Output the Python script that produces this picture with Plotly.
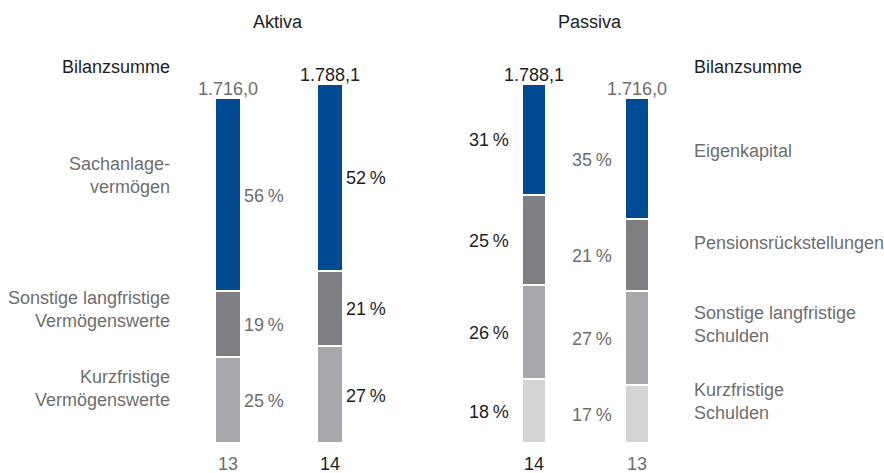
import plotly.graph_objects as go

# Balance sheet structure (EUR m), shares in percent of total
aktiva_years = ["13", "14"]
aktiva_total = [1716.0, 1788.1]
aktiva_sach = [56, 52]
aktiva_sonst = [19, 21]
aktiva_kurz = [25, 27]

passiva_years = ["14", "13"]
passiva_total = [1788.1, 1716.0]
passiva_ek = [31, 35]
passiva_pens = [25, 21]
passiva_sonst = [26, 27]
passiva_kurz = [18, 17]

total_labels = {1716.0: "1.716,0", 1788.1: "1.788,1"}

# Styles
W, H = 884, 473
FONT = "Liberation Sans"
FS = 18
BLUE = "#004a93"
DGRAY = "#7e7f83"
MGRAY = "#a7a8ac"
LGRAY = "#d3d4d6"
TXT_DARK = "#1e1e1e"
TXT_GRAY = "#6e6e6e"
year_color = {"13": TXT_GRAY, "14": TXT_DARK}


def px(x):
    return x / W


def py(y):
    return 1 - y / H


def amounts(pcts, totals):
    return [p / 100 * t for p, t in zip(pcts, totals)]


fig = go.Figure()

bar_style = dict(width=0.25, marker_line_color="white", marker_line_width=2.5,
                 hoverinfo="skip", showlegend=False)

aktiva_stack = [(aktiva_kurz, MGRAY), (aktiva_sonst, DGRAY), (aktiva_sach, BLUE)]
passiva_stack = [(passiva_kurz, LGRAY), (passiva_sonst, MGRAY),
                 (passiva_pens, DGRAY), (passiva_ek, BLUE)]

annotations = []


def add_side(years, totals, stack, xa, ya, side):
    base = [0.0] * len(years)
    for pcts, col in stack:
        vals = amounts(pcts, totals)
        fig.add_trace(go.Bar(x=years, y=vals, marker_color=col,
                             xaxis=xa, yaxis=ya, **bar_style))
        for i, yr in enumerate(years):
            # category index i: numeric-looking category names would be read as values
            annotations.append(dict(
                x=i, y=base[i] + vals[i] / 2, xref=xa, yref=ya,
                text=f"{pcts[i]}\u202f%", showarrow=False,
                xanchor="left" if side == "right" else "right",
                xshift=14 if side == "right" else -23, yshift=-1,
                font=dict(family=FONT, size=FS, color=year_color[yr])))
            base[i] += vals[i]
    for i, yr in enumerate(years):
        annotations.append(dict(
            x=i, y=totals[i], xref=xa, yref=ya, text=total_labels[totals[i]],
            showarrow=False, yanchor="bottom", yshift=-3,
            font=dict(family=FONT, size=FS, color=year_color[yr])))


add_side(aktiva_years, aktiva_total, aktiva_stack, "x", "y", "right")
add_side(passiva_years, passiva_total, passiva_stack, "x2", "y2", "left")

# Headings and category captions
def text(x, y, s, anchor="center", color=TXT_DARK):
    annotations.append(dict(x=px(x), y=py(y), xref="paper", yref="paper", text=s,
                            showarrow=False, xanchor=anchor, yanchor="middle",
                            align=anchor if anchor != "center" else "center",
                            font=dict(family=FONT, size=FS, color=color)))


text(278, 22, "Aktiva")
text(590, 22, "Passiva")
text(172, 67, "Bilanzsumme", "right")
text(692, 67, "Bilanzsumme", "left")

text(172, 175, "Sachanlage-<br>vermögen", "right", TXT_GRAY)
text(172, 309, "Sonstige langfristige<br>Vermögenswerte", "right", TXT_GRAY)
text(172, 388, "Kurzfristige<br>Vermögenswerte", "right", TXT_GRAY)

text(692, 151, "Eigenkapital", "left", TXT_GRAY)
text(692, 243, "Pensionsrückstellungen", "left", TXT_GRAY)
text(692, 324, "Sonstige langfristige<br>Schulden", "left", TXT_GRAY)
text(692, 401, "Kurzfristige<br>Schulden", "left", TXT_GRAY)

# Axis geometry
bar_bottom = 443.25
bar_top_max = 83.75
scale = (bar_bottom - bar_top_max) / max(aktiva_total)
y_range = [0, bar_bottom / scale]
ydom = [py(bar_bottom), 1]


def xaxis(years, dom):
    return dict(domain=dom, type="category", categoryorder="array", categoryarray=years,
                range=[-0.5, 1.5], showgrid=False, zeroline=False, showline=False,
                ticks="outside", ticklen=4, tickcolor="rgba(0,0,0,0)",
                tickvals=years, automargin=False,
                ticktext=[f'<span style="color:{year_color[y]}">{y}</span>' for y in years],
                tickfont=dict(family=FONT, size=FS), fixedrange=True)


yax = dict(domain=ydom, range=y_range, showgrid=False, zeroline=False,
           showticklabels=False, showline=False, fixedrange=True, automargin=False)

fig.update_layout(
    width=W, height=H, margin=dict(l=0, r=0, t=0, b=0, autoexpand=False),
    paper_bgcolor="white", plot_bgcolor="white",
    barmode="stack", bargap=0,
    xaxis=xaxis(aktiva_years, [px(177), px(381)]),
    xaxis2=xaxis(passiva_years, [px(482.5), px(688.5)]),
    yaxis=dict(yax, anchor="x"),
    yaxis2=dict(yax, anchor="x2"),
    annotations=annotations,
)

fig.write_html("out.html")
